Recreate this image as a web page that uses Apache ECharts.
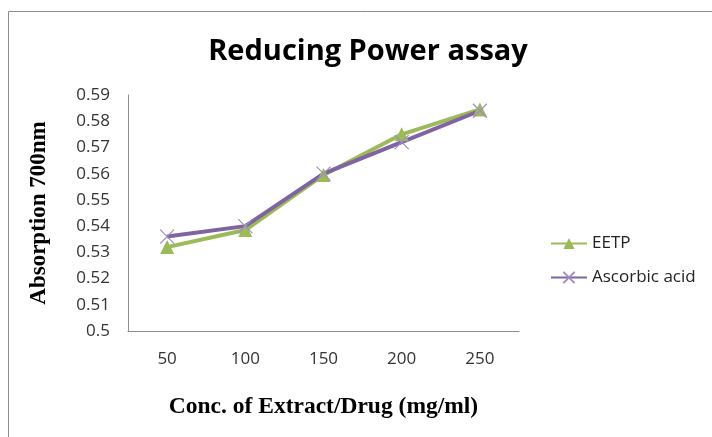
<!DOCTYPE html>
<html>
<head>
<meta charset="utf-8">
<script src="https://cdn.jsdelivr.net/npm/echarts@6/dist/echarts.min.js"></script>
<style>
  html, body { margin: 0; padding: 0; background: #fff; }
  #chart { width: 712px; height: 437px; }
</style>
</head>
<body>
<div id="chart"></div>
<script>
const concentrations = ['50', '100', '150', '200', '250'];
const eetp = [0.532, 0.5385, 0.5595, 0.575, 0.5845];
const ascorbicAcid = [0.536, 0.540, 0.560, 0.572, 0.584];

const chart = echarts.init(document.getElementById('chart'));

const crossPath = 'path://M0,0L10,10M10,0L0,10';

chart.setOption({
    backgroundColor: '#fff',
    animation: false,
    graphic: [{
        type: 'rect',
        shape: {x: 8.5, y: 11.5, width: 720, height: 440},
        style: {fill: 'none', stroke: '#8c8c8c', lineWidth: 1}
    }],
    title: {
        text: 'Reducing Power assay',
        left: 363,
        top: 32,
        textAlign: 'center',
        textStyle: {fontFamily: 'Open Sans', fontSize: 29, fontWeight: 'bold', color: '#000'}
    },
    legend: {
        orient: 'vertical',
        left: 545,
        top: 230,
        itemWidth: 36,
        itemHeight: 14,
        itemGap: 17,
        textStyle: {fontFamily: 'Open Sans', fontSize: 17, color: '#222'},
        data: ['EETP', 'Ascorbic acid']
    },
    grid: {left: 128, top: 95, width: 391, height: 236},
    xAxis: {
        type: 'category',
        data: concentrations,
        boundaryGap: true,
        name: 'Conc. of Extract/Drug (mg/ml)',
        nameLocation: 'middle',
        nameGap: 64,
        nameTextStyle: {fontFamily: 'Liberation Serif', fontSize: 23.5, fontWeight: 'bold', color: '#000'},
        axisLine: {lineStyle: {color: '#8c8c8c', width: 1}},
        axisTick: {show: false},
        axisLabel: {fontFamily: 'Open Sans', fontSize: 17, color: '#333', margin: 20}
    },
    yAxis: {
        type: 'value',
        min: 0.5,
        max: 0.59,
        interval: 0.01,
        name: 'Absorption 700nm',
        nameLocation: 'middle',
        nameGap: 77,
        nameTextStyle: {fontFamily: 'Liberation Serif', fontSize: 23, fontWeight: 'bold', color: '#000'},
        axisLine: {show: true, lineStyle: {color: '#8c8c8c', width: 1}},
        axisTick: {show: false},
        splitLine: {show: false},
        axisLabel: {
            fontFamily: 'Open Sans', fontSize: 17, color: '#333', margin: 18,
            formatter: v => String(Math.round(v * 100) / 100)
        }
    },
    series: [
        {
            name: 'EETP',
            type: 'line',
            data: eetp,
            symbol: 'triangle',
            symbolSize: 14,
            lineStyle: {color: '#9bbb59', width: 4},
            itemStyle: {color: '#9bbb59'}
        },
        {
            name: 'Ascorbic acid',
            type: 'line',
            data: ascorbicAcid,
            symbol: crossPath,
            symbolSize: 14,
            lineStyle: {color: '#8064a2', width: 4},
            itemStyle: {color: 'none', borderColor: '#9f8cc4', borderWidth: 1.2}
        }
    ]
});
</script>
</body>
</html>
